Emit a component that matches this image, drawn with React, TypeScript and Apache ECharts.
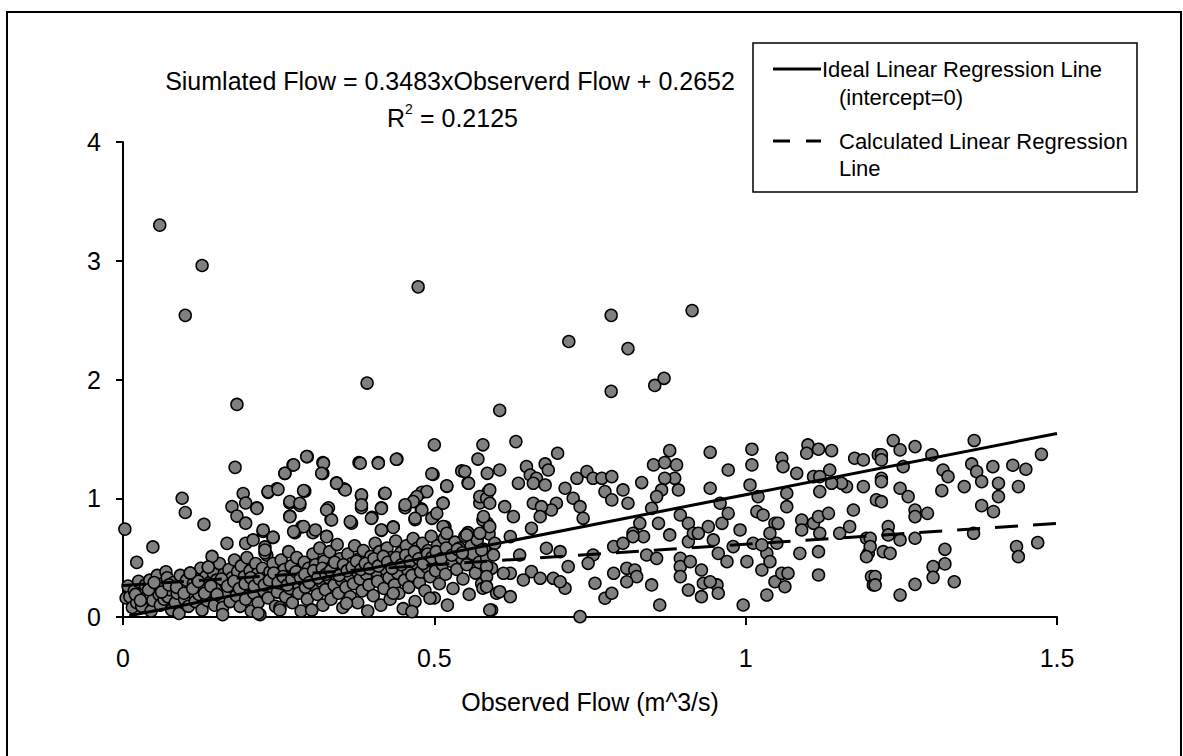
import React, { useEffect, useRef } from "react";
import * as echarts from "echarts";

// ---- axis definitions ----
const xMin = 0;
const xMax = 1.5;
const xStep = 0.5;
const yMin = 0;
const yMax = 4;
const yStep = 1;

// ---- regression lines ----
const calcSlope = 0.3483;
const calcIntercept = 0.2652;
const idealLine: number[][] = [
  [0.01, 0.01],
  [1.5, 1.545],
];

// ---- scatter points (observed, simulated) ----
const outlierPoints: number[][] = [
  [0.059, 3.3], [0.127, 2.96], [0.1, 2.54], [0.474, 2.78], [0.392, 1.97], [0.183, 1.79],
  [0.605, 1.74], [0.784, 2.54], [0.914, 2.58], [0.716, 2.32], [0.811, 2.26], [0.784, 1.9],
  [0.854, 1.95], [0.869, 2.01],
];

const lowFlowUpper: number[][] = [
  [0.003, 0.74], [0.022, 0.46], [0.048, 0.59], [0.095, 1.0], [0.1, 0.88], [0.18, 1.26],
  [0.13, 0.78], [0.175, 0.93], [0.183, 0.85], [0.193, 1.04], [0.197, 0.96], [0.197, 0.79],
  [0.215, 0.92], [0.233, 1.05], [0.247, 1.08], [0.26, 1.21], [0.273, 1.28], [0.296, 1.35],
  [0.321, 1.3], [0.321, 1.21], [0.343, 1.13], [0.355, 1.08], [0.379, 1.3], [0.41, 1.3],
  [0.44, 1.33], [0.5, 1.45], [0.498, 1.2], [0.544, 1.23], [0.554, 1.13], [0.578, 1.45],
  [0.57, 1.33], [0.585, 1.21], [0.268, 0.96], [0.268, 0.85], [0.284, 0.94], [0.292, 1.06],
  [0.287, 0.76], [0.276, 0.71], [0.305, 0.71], [0.33, 0.92], [0.334, 0.82], [0.327, 0.68],
  [0.367, 0.79], [0.383, 1.02], [0.383, 0.92], [0.4, 0.84], [0.415, 0.92], [0.42, 1.04],
  [0.415, 0.73], [0.434, 0.76], [0.453, 0.92], [0.469, 0.99], [0.48, 1.05], [0.479, 0.91],
  [0.469, 0.82], [0.498, 0.84], [0.514, 0.96], [0.52, 1.1], [0.517, 0.76], [0.554, 0.71],
  [0.573, 0.96], [0.586, 1.05], [0.585, 0.79], [0.167, 0.62], [0.197, 0.62], [0.225, 0.72],
  [0.241, 0.67], [0.228, 0.59], [0.228, 0.54], [0.143, 0.51], [0.137, 0.42], [0.108, 0.37],
];

const midFlowUpper: number[][] = [
  [0.295, 1.351], [0.274, 1.281], [0.26, 1.21], [0.322, 1.295], [0.319, 1.21], [0.381, 1.295],
  [0.41, 1.295], [0.439, 1.328], [0.496, 1.205], [0.52, 1.104], [0.549, 1.225], [0.555, 1.126],
  [0.514, 0.958], [0.488, 1.056], [0.472, 1.014], [0.466, 0.972], [0.48, 0.901], [0.453, 0.944],
  [0.469, 0.831], [0.496, 0.831], [0.504, 0.873], [0.514, 0.761], [0.52, 0.705], [0.434, 0.755],
  [0.415, 0.733], [0.399, 0.831], [0.421, 1.042], [0.415, 0.915], [0.383, 1.028], [0.383, 0.944],
  [0.357, 1.07], [0.343, 1.126], [0.327, 0.901], [0.335, 0.817], [0.365, 0.803], [0.29, 1.064],
  [0.268, 0.972], [0.284, 0.958], [0.268, 0.845], [0.233, 1.056], [0.249, 1.075], [0.215, 0.915],
  [0.225, 0.733], [0.241, 0.671], [0.29, 0.761], [0.274, 0.719], [0.309, 0.733], [0.327, 0.677],
  [0.573, 1.014], [0.584, 1.0], [0.578, 0.817], [0.589, 0.761], [0.552, 0.691], [0.576, 0.564],
  [0.584, 0.424], [0.584, 0.34], [0.578, 0.242], [0.6, 0.2], [0.592, 0.059], [0.493, 0.158],
  [0.464, 0.045], [0.303, 0.059], [0.252, 0.059], [0.217, 0.031], [0.359, 0.115], [0.434, 0.2],
  [0.209, 0.649], [0.228, 0.564],
];

const bandPoints: number[][] = [
  [0.005, 0.16], [0.008, 0.26], [0.011, 0.17], [0.015, 0.08], [0.018, 0.22], [0.022, 0.12],
  [0.025, 0.3], [0.03, 0.09], [0.032, 0.2], [0.036, 0.27], [0.039, 0.17], [0.043, 0.31],
  [0.045, 0.05], [0.048, 0.14], [0.052, 0.24], [0.055, 0.35], [0.058, 0.19], [0.06, 0.1],
  [0.063, 0.28], [0.066, 0.15], [0.069, 0.38], [0.071, 0.33], [0.072, 0.17], [0.075, 0.23],
  [0.078, 0.06], [0.081, 0.29], [0.084, 0.12], [0.087, 0.2], [0.09, 0.03], [0.092, 0.35],
  [0.094, 0.26], [0.096, 0.24], [0.099, 0.15], [0.102, 0.31], [0.105, 0.09], [0.108, 0.37],
  [0.11, 0.21], [0.113, 0.28], [0.116, 0.13], [0.119, 0.33], [0.122, 0.19], [0.125, 0.41],
  [0.127, 0.06], [0.13, 0.25], [0.133, 0.34], [0.135, 0.14], [0.137, 0.42], [0.139, 0.29],
  [0.142, 0.21], [0.145, 0.37], [0.147, 0.1], [0.15, 0.31], [0.152, 0.24], [0.155, 0.45],
  [0.157, 0.17], [0.16, 0.08], [0.16, 0.02], [0.162, 0.36], [0.165, 0.28], [0.167, 0.21],
  [0.17, 0.4], [0.172, 0.13], [0.175, 0.33], [0.177, 0.25], [0.179, 0.48], [0.182, 0.18],
  [0.184, 0.38], [0.186, 0.29], [0.188, 0.09], [0.19, 0.43], [0.192, 0.23], [0.195, 0.34],
  [0.197, 0.15], [0.199, 0.5], [0.202, 0.27], [0.204, 0.39], [0.206, 0.05], [0.208, 0.31],
  [0.21, 0.2], [0.213, 0.45], [0.215, 0.36], [0.217, 0.12], [0.22, 0.02], [0.222, 0.28],
  [0.224, 0.41], [0.226, 0.22], [0.229, 0.33], [0.231, 0.52], [0.233, 0.16], [0.236, 0.38],
  [0.238, 0.26], [0.241, 0.45], [0.243, 0.31], [0.245, 0.09], [0.248, 0.21], [0.25, 0.36],
  [0.252, 0.08], [0.254, 0.48], [0.256, 0.28], [0.259, 0.4], [0.261, 0.17], [0.263, 0.33],
  [0.266, 0.55], [0.268, 0.24], [0.27, 0.43], [0.272, 0.12], [0.275, 0.36], [0.277, 0.29],
  [0.279, 0.5], [0.282, 0.2], [0.284, 0.39], [0.286, 0.05], [0.289, 0.31], [0.291, 0.46],
  [0.293, 0.25], [0.296, 0.15], [0.298, 0.41], [0.301, 0.34], [0.303, 0.06], [0.305, 0.53],
  [0.307, 0.27], [0.309, 0.44], [0.312, 0.19], [0.314, 0.37], [0.316, 0.58], [0.318, 0.3],
  [0.321, 0.1], [0.323, 0.47], [0.325, 0.23], [0.327, 0.4], [0.33, 0.33], [0.332, 0.55],
  [0.334, 0.15], [0.337, 0.43], [0.339, 0.27], [0.341, 0.36], [0.344, 0.61], [0.346, 0.2],
  [0.348, 0.49], [0.351, 0.31], [0.353, 0.08], [0.356, 0.41], [0.358, 0.25], [0.361, 0.53],
  [0.363, 0.35], [0.365, 0.17], [0.367, 0.45], [0.37, 0.28], [0.372, 0.6], [0.374, 0.39],
  [0.377, 0.12], [0.379, 0.49], [0.381, 0.32], [0.384, 0.22], [0.386, 0.56], [0.388, 0.42],
  [0.391, 0.36], [0.393, 0.05], [0.395, 0.27], [0.398, 0.51], [0.4, 0.45], [0.402, 0.18],
  [0.405, 0.62], [0.407, 0.38], [0.409, 0.3], [0.412, 0.55], [0.414, 0.1], [0.417, 0.47],
  [0.419, 0.24], [0.422, 0.4], [0.424, 0.58], [0.427, 0.33], [0.429, 0.15], [0.431, 0.5],
  [0.434, 0.43], [0.436, 0.27], [0.438, 0.64], [0.441, 0.37], [0.443, 0.2], [0.446, 0.54],
  [0.448, 0.46], [0.45, 0.07], [0.452, 0.31], [0.455, 0.6], [0.457, 0.4], [0.459, 0.25],
  [0.462, 0.51], [0.464, 0.35], [0.466, 0.66], [0.469, 0.13], [0.471, 0.45], [0.473, 0.58],
  [0.476, 0.29], [0.478, 0.38], [0.481, 0.62], [0.483, 0.5], [0.485, 0.22], [0.488, 0.42],
  [0.49, 0.56], [0.493, 0.34], [0.495, 0.68], [0.497, 0.47], [0.5, 0.16], [0.502, 0.39],
  [0.505, 0.6], [0.508, 0.28], [0.51, 0.52], [0.513, 0.44], [0.516, 0.66], [0.518, 0.36],
  [0.521, 0.1], [0.524, 0.55], [0.527, 0.47], [0.53, 0.24], [0.533, 0.63], [0.536, 0.4],
  [0.54, 0.58], [0.543, 0.5], [0.546, 0.32], [0.549, 0.68], [0.552, 0.44], [0.556, 0.19],
  [0.559, 0.6], [0.562, 0.53], [0.566, 0.37], [0.569, 0.65], [0.572, 0.46], [0.576, 0.28],
  [0.58, 0.57], [0.584, 0.5], [0.588, 0.7], [0.592, 0.41], [0.597, 0.62],
];

const coreBandPoints: number[][] = [
  [0.02, 0.19], [0.028, 0.14], [0.041, 0.23], [0.05, 0.29], [0.062, 0.21], [0.074, 0.27],
  [0.086, 0.25], [0.098, 0.2], [0.112, 0.24], [0.121, 0.3], [0.131, 0.2], [0.141, 0.26],
  [0.151, 0.19], [0.158, 0.32], [0.168, 0.26], [0.178, 0.3], [0.187, 0.24], [0.196, 0.28],
  [0.205, 0.33], [0.211, 0.26], [0.219, 0.32], [0.227, 0.27], [0.235, 0.31], [0.242, 0.37],
  [0.249, 0.29], [0.257, 0.34], [0.264, 0.27], [0.271, 0.32], [0.278, 0.38], [0.285, 0.33],
  [0.292, 0.36], [0.299, 0.29], [0.306, 0.39], [0.313, 0.33], [0.32, 0.41], [0.326, 0.36],
  [0.333, 0.39], [0.34, 0.46], [0.347, 0.35], [0.354, 0.44], [0.36, 0.39], [0.368, 0.42],
  [0.375, 0.47], [0.382, 0.4], [0.389, 0.45], [0.396, 0.41], [0.403, 0.49], [0.41, 0.43],
  [0.418, 0.51], [0.425, 0.46], [0.432, 0.41], [0.439, 0.5], [0.447, 0.44], [0.454, 0.52],
  [0.461, 0.47], [0.468, 0.55], [0.475, 0.49], [0.482, 0.45], [0.489, 0.53], [0.496, 0.5],
  [0.503, 0.55], [0.511, 0.49], [0.519, 0.58], [0.528, 0.52], [0.537, 0.57], [0.545, 0.54],
];

const highFlowPoints: number[][] = [
  [0.631, 1.477], [0.698, 1.379], [0.605, 1.238], [0.648, 1.266], [0.678, 1.289], [0.683, 1.238],
  [0.654, 1.196], [0.664, 1.168], [0.635, 1.126], [0.659, 1.126], [0.678, 1.112], [0.71, 1.084],
  [0.696, 0.958], [0.688, 0.901], [0.659, 0.958], [0.672, 0.929], [0.67, 0.845], [0.627, 0.845],
  [0.613, 0.929], [0.589, 1.07], [0.589, 0.958], [0.579, 0.845], [0.656, 0.747], [0.637, 0.522],
  [0.622, 0.368], [0.656, 0.382], [0.67, 0.326], [0.643, 0.312], [0.605, 0.213], [0.622, 0.171],
  [0.589, 0.059], [0.584, 0.255], [0.691, 0.326], [0.71, 0.242], [0.715, 0.424], [0.734, 0.003],
  [0.729, 1.168], [0.745, 1.224], [0.723, 1.0], [0.734, 0.929], [0.739, 0.831], [0.755, 1.168],
  [0.769, 1.168], [0.785, 1.182], [0.774, 1.056], [0.785, 0.986], [0.803, 1.07], [0.811, 0.958],
  [0.833, 1.132], [0.852, 1.281], [0.87, 1.3], [0.878, 1.401], [0.889, 1.281], [0.886, 1.168],
  [0.87, 1.168], [0.865, 1.07], [0.892, 1.07], [0.857, 1.014], [0.849, 0.915], [0.83, 0.789],
  [0.819, 0.705], [0.836, 0.677], [0.86, 0.789], [0.878, 0.691], [0.895, 0.859], [0.908, 0.789],
  [0.908, 0.635], [0.916, 0.705], [0.895, 0.494], [0.895, 0.424], [0.895, 0.34], [0.911, 0.466],
  [0.929, 0.396], [0.932, 0.284], [0.908, 0.227], [0.929, 0.171], [0.954, 0.27], [0.956, 0.2],
  [0.943, 0.297], [0.924, 0.705], [0.94, 0.761], [0.948, 0.649], [0.956, 0.536], [0.97, 0.466],
  [0.962, 0.789], [0.972, 0.873], [0.959, 0.958], [0.943, 1.084], [0.943, 1.387], [0.972, 1.238],
  [0.68, 0.579], [0.702, 0.55], [0.758, 0.284], [0.774, 0.158], [0.785, 0.2], [0.788, 0.368],
  [0.809, 0.41], [0.822, 0.396], [0.825, 0.34], [0.849, 0.27], [0.862, 0.101], [0.841, 0.522],
  [0.857, 0.494], [0.788, 0.593], [0.803, 0.621], [0.819, 0.677], [0.809, 0.297], [0.755, 0.522],
  [0.747, 0.452], [0.702, 0.297], [0.622, 0.677], [0.595, 0.522], [0.611, 0.368], [0.573, 0.705],
];

const veryHighFlowPoints: number[][] = [
  [1.01, 1.413], [1.01, 1.281], [1.007, 1.112], [1.02, 1.014], [1.018, 0.887], [1.028, 0.859],
  [1.047, 0.789], [1.039, 0.705], [1.034, 0.536], [1.026, 0.396], [1.039, 0.466], [1.047, 0.297],
  [1.034, 0.185], [1.063, 0.255], [1.058, 0.368], [1.068, 0.368], [0.996, 0.101], [1.002, 0.466],
  [0.98, 0.593], [0.991, 0.733], [1.012, 0.621], [1.05, 0.621], [1.087, 0.536], [1.09, 0.817],
  [1.09, 0.733], [1.109, 0.789], [1.117, 0.845], [1.133, 0.873], [1.119, 0.705], [1.117, 0.55],
  [1.117, 0.354], [1.151, 0.705], [1.167, 0.761], [1.173, 0.901], [1.162, 1.098], [1.189, 1.098],
  [1.154, 1.126], [1.138, 1.126], [1.119, 1.056], [1.109, 1.182], [1.082, 1.21], [1.058, 1.337],
  [1.06, 1.266], [1.1, 1.449], [1.098, 1.379], [1.117, 1.413], [1.138, 1.401], [1.175, 1.337],
  [1.135, 1.238], [1.119, 1.182], [1.194, 0.663], [1.197, 0.536], [1.202, 0.34], [1.205, 0.27],
  [1.21, 0.986], [1.213, 1.365], [1.066, 1.042], [1.066, 0.929], [1.052, 0.789], [1.026, 0.607],
  [1.237, 1.486], [1.248, 1.407], [1.272, 1.435], [1.299, 1.365], [1.367, 1.486], [1.475, 1.37],
  [1.218, 1.365], [1.218, 1.323], [1.253, 1.266], [1.317, 1.238], [1.325, 1.182], [1.363, 1.289],
  [1.371, 1.224], [1.397, 1.266], [1.429, 1.278], [1.45, 1.244], [1.189, 1.323], [1.218, 1.168],
  [1.218, 1.14], [1.248, 1.084], [1.261, 1.014], [1.315, 1.064], [1.351, 1.098], [1.379, 1.14],
  [1.406, 1.126], [1.438, 1.098], [1.406, 1.014], [1.218, 0.971], [1.379, 0.938], [1.398, 0.887],
  [1.272, 0.901], [1.272, 0.845], [1.292, 0.873], [1.229, 0.761], [1.229, 0.691], [1.2, 0.663],
  [1.2, 0.593], [1.248, 0.649], [1.272, 0.663], [1.221, 0.55], [1.232, 0.536], [1.194, 0.508],
  [1.32, 0.57], [1.366, 0.705], [1.32, 0.447], [1.301, 0.424], [1.301, 0.334], [1.335, 0.297],
  [1.272, 0.275], [1.248, 0.185], [1.208, 0.34], [1.208, 0.27], [1.435, 0.593], [1.438, 0.508],
  [1.469, 0.626],
];

// ---- texts ----
const equationText = "Siumlated Flow = 0.3483xObserverd Flow + 0.2652";
const r2Base = "R";
const r2Sup = "2";
const r2Rest = " = 0.2125";
const xAxisTitle = "Observed Flow (m^3/s)";
const yAxisTitle = "Simulated Flow (m^3/s)";
const legendIdeal = ["Ideal Linear Regression Line", "(intercept=0)"];
const legendCalc = ["Calculated Linear Regression", "Line"];

const FONT = "'Liberation Sans', Arial, sans-serif";

export default function App() {
  const ref = useRef<HTMLDivElement>(null);

  useEffect(() => {
    document.body.style.margin = "0";
    if (!ref.current) return;
    const chart = echarts.init(ref.current, undefined, { renderer: "svg" });

    const allPoints = [
      ...bandPoints,
      ...coreBandPoints,
      ...lowFlowUpper,
      ...midFlowUpper,
      ...highFlowPoints,
      ...veryHighFlowPoints,
      ...outlierPoints,
    ];
    const calcLine = [
      [xMin, calcIntercept],
      [xMax, calcIntercept + calcSlope * xMax],
    ];

    const txt = (x: number, y: number, text: string, size: number, align = "left", extra: any = {}) => ({
      type: "text",
      x,
      y,
      silent: true,
      style: {
        text,
        fontSize: size,
        fontFamily: FONT,
        fill: "#000",
        textAlign: align,
        textVerticalAlign: "middle",
      },
      ...extra,
    });

    chart.setOption({
      animation: false,
      backgroundColor: "#fff",
      grid: { left: 123, top: 142, right: 126, bottom: 139, containLabel: false },
      xAxis: {
        type: "value",
        min: xMin,
        max: xMax,
        interval: xStep,
        splitLine: { show: false },
        axisLine: { show: true, onZero: false, lineStyle: { color: "#000", width: 2 } },
        axisTick: { show: true, inside: false, length: 8, lineStyle: { color: "#000", width: 2 } },
        axisLabel: { color: "#000", fontSize: 25, fontFamily: FONT, margin: 28 },
      },
      yAxis: {
        type: "value",
        min: yMin,
        max: yMax,
        interval: yStep,
        splitLine: { show: false },
        axisLine: { show: true, onZero: false, lineStyle: { color: "#000", width: 2 } },
        axisTick: { show: true, inside: false, length: 7, lineStyle: { color: "#000", width: 2 } },
        axisLabel: { color: "#000", fontSize: 25, fontFamily: FONT, margin: 22 },
      },
      series: [
        {
          type: "scatter",
          data: allPoints,
          symbol: "circle",
          symbolSize: 12,
          itemStyle: { color: "#808080", borderColor: "#000", borderWidth: 1.5, opacity: 1 },
          z: 2,
        },
        {
          type: "line",
          data: idealLine,
          symbol: "none",
          lineStyle: { color: "#000", width: 3, type: "solid" },
          z: 3,
        },
        {
          type: "line",
          data: calcLine,
          symbol: "none",
          lineStyle: { color: "#000", width: 3, type: [23, 15] },
          z: 3,
        },
      ],
      graphic: [
        {
          type: "rect",
          silent: true,
          shape: { x: 7, y: 12, width: 1174, height: 750 },
          style: { fill: "none", stroke: "#000", lineWidth: 2 },
        },
        txt(450, 81, equationText, 25, "center"),
        txt(387, 118, r2Base, 25, "left"),
        txt(405, 109, r2Sup, 14, "left"),
        txt(413, 118, r2Rest, 25, "left"),
        txt(590, 702, xAxisTitle, 25, "center"),
        txt(63, 383, yAxisTitle, 25, "center", { rotation: Math.PI / 2, originX: 63, originY: 383 }),
        {
          type: "rect",
          silent: true,
          shape: { x: 753, y: 43, width: 384, height: 149 },
          style: { fill: "#fff", stroke: "#000", lineWidth: 1.5 },
        },
        {
          type: "line",
          silent: true,
          shape: { x1: 773, y1: 69, x2: 821, y2: 69 },
          style: { stroke: "#000", lineWidth: 3 },
        },
        {
          type: "line",
          silent: true,
          shape: { x1: 773, y1: 141, x2: 821, y2: 141 },
          style: { stroke: "#000", lineWidth: 3, lineDash: [17, 16] },
        },
        txt(822, 69, legendIdeal[0], 22, "left"),
        txt(839, 97, legendIdeal[1], 22, "left"),
        txt(839, 141, legendCalc[0], 22, "left"),
        txt(839, 168, legendCalc[1], 22, "left"),
      ],
    });

    return () => chart.dispose();
  }, []);

  return (
    <div
      ref={ref}
      style={{ width: 1183, height: 756, position: "absolute", left: 0, top: 0 }}
    />
  );
}
